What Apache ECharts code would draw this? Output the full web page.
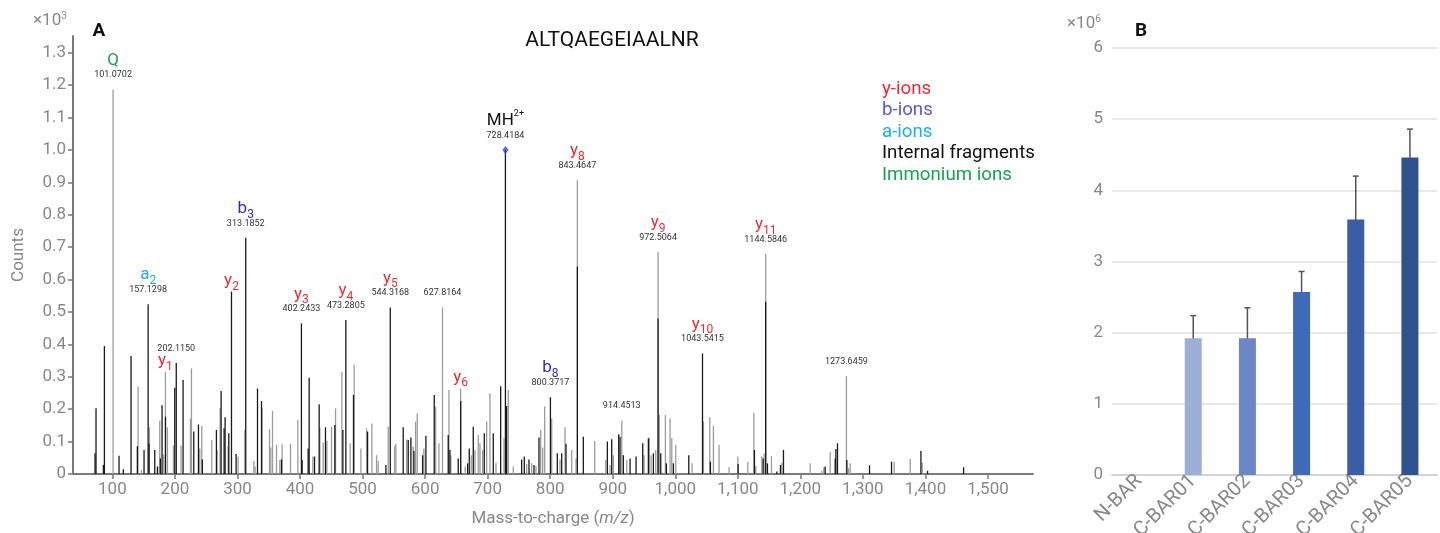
<!DOCTYPE html>
<html><head><meta charset="utf-8">
<script src="https://cdn.jsdelivr.net/npm/echarts@6/dist/echarts.min.js"></script>
<style>html,body{margin:0;padding:0;background:#fff}#c{width:1440px;height:533px}</style>
</head><body><div id="c"></div>
<script>
// ---------- Panel A: spectrum (counts x10^3) ----------
const grayPeaks = [[101.07,1.187],[141.0,0.27],[146.4,0.012],[159.2,0.144],[172.5,0.023],[175.7,0.164],[182.1,0.06],[184.8,0.315],[188,0.144],[197.6,0.088],[209.8,0.088],[224.8,0.171],[226.4,0.326],[239.7,0.079],[242.9,0.148],[258.9,0.105],[267.4,0.073],[272.2,0.203],[285,0.086],[301,0.054],[311.7,0.136],[326.1,0.04],[328.2,0.023],[339.4,0.203],[351.2,0.138],[353.3,0.082],[356,0.195],[362.4,0.09],[367.7,0.043],[371.4,0.092],[384.8,0.093],[396.5,0.167],[420.5,0.054],[431.7,0.143],[437,0.097],[442.9,0.103],[450.4,0.146],[456.8,0.203],[466.9,0.315],[480.2,0.095],[486.6,0.338],[497.3,0.079],[506.4,0.141],[514.9,0.156],[522.4,0.058],[525,0.041],[541,0.146],
[551.2,0.086],[553.3,0.093],[570.4,0.107],[581,0.084],[584.8,0.162],[587.4,0.187],[598.1,0.079],[616.8,0.208],[622.1,0.095],[627.82,0.514],[638.1,0.259],[641.3,0.058],[656.8,0.264],[664.2,0.023],[673.8,0.058],[679.7,0.074],[685,0.12],[687.7,0.095],[692,0.074],[698.4,0.162],[703.7,0.249],[713.3,0.035],[726.1,0.11],[733,0.259],[741,0.023],[762.4,0.031],[770.4,0.033],[777.3,0.025],[784.8,0.136],[788,0.082],[791.2,0.208],[802.4,0.171],[815.7,0.045],[823.7,0.144],[834.4,0.074],[841.3,0.048],[843.46,0.907],[871.2,0.102],[888.8,0.043],[895.7,0.028],[901,0.058],[914.45,0.165],[922.4,0.043],[950.1,0.058],[958.6,0.113],[961.3,0.058],[968.8,0.074],[972.51,0.686],[974.6,0.182],[984.2,0.182],[991.7,0.171],[994.4,0.11],[1000.8,0.09],[1026.9,0.033],[1045,0.162],[1055.2,0.175],[1061,0.148],[1070,0.09],
[1086,0.021],[1100,0.054],[1116,0.037],[1125.6,0.189],[1128.8,0.025],[1138.4,0.054],[1142.1,0.064],[1144.58,0.679],[1153.8,0.056],[1170.4,0.035],[1215.7,0.033],[1234.4,0.01],[1237.6,0.021],[1247.7,0.068],[1273.65,0.302],[1277,0.018],[1279.7,0.033],[1350.1,0.038],[1375.7,0.046],[1394.9,0.035]];

const blackPeaks = [[72.2,0.064],[73.8,0.203],[85.6,0.028],[87.2,0.395],[110.6,0.056],[117.5,0.015],[129.8,0.364],[139.9,0.086],[150.6,0.074],[157.13,0.524],[158.5,0.093],[167.7,0.074],[172,0.023],[176.7,0.048],[179.4,0.212],[184.9,0.177],[199.7,0.266],[202.12,0.343],[213,0.29],[230.1,0.131],[237.6,0.153],[243.9,0.045],[266.3,0.136],[273.8,0.256],[278.6,0.141],[280.2,0.175],[286.1,0.126],[290.4,0.563],[297.8,0.062],[313.19,0.729],[332,0.264],[338.4,0.225],[370.4,0.045],[402.24,0.465],[403.4,0.043],[413,0.079],[414.6,0.297],[423.2,0.054],[430.6,0.215],[440.7,0.144],[455.7,0.151],[468.5,0.136],[473.28,0.475],[485.5,0.244],[508,0.131],[537.3,0.028],[544.32,0.514],
[565,0.144],[573,0.105],[577.3,0.113],[582.1,0.071],[596,0.058],[601.3,0.118],[614.6,0.244],[637,0.12],[639.7,0.074],[653,0.048],[656.9,0.225],[668,0.033],[670.6,0.079],[677,0.146],[694.6,0.126],[709,0.126],[720.8,0.271],[728.42,1.0],[730.4,0.21],[754.4,0.045],[758.6,0.054],[766.1,0.045],[774.1,0.028],[782.1,0.113],[800.37,0.237],[811.4,0.064],[818.4,0.064],[825.3,0.093],[843.47,0.64],[853,0.115],[891.4,0.1],[898.4,0.107],[909.6,0.123],[911.7,0.115],[917,0.058],[927.7,0.048],[937.3,0.054],[948,0.095],[957,0.11],[965,0.064],[972.51,0.48],[976.8,0.064],[985.8,0.033],[997,0.033],[1021.6,0.058],[1043.54,0.372],[1056.2,0.038],
[1100.5,0.031],[1126.6,0.074],[1140.5,0.048],[1144.59,0.532],[1147.4,0.033],[1162.4,0.008],[1168.2,0.028],[1173,0.074],[1239.7,0.023],[1255.7,0.048],[1256.8,0.077],[1259.4,0.095],[1274.4,0.043],[1310.6,0.027],[1345.8,0.038],[1392.8,0.071],[1403.4,0.01],[1461,0.021]];

// annotations
const annMz   = [101.0702,157.1298,184.8,202.1150,290.4,313.1852,402.2433,473.2805,544.3168,627.8164,656.8,728.4184,800.3717,843.4647,914.4513,972.5064,1043.5415,1144.5846,1273.6459];
const annTop  = [1.187,0.524,0.315,0.343,0.563,0.729,0.465,0.475,0.514,0.514,0.264,1.0,0.237,0.907,0.165,0.686,0.372,0.679,0.302];
const annIon  = ['Q','a','y','','y','b','y','y','y','','y','MH','b','y','','y','y','y',''];
const annSub  = ['','2','1','','2','3','3','4','5','','6','','8','8','','9','10','11',''];
const annSup  = ['','','','','','','','','','','','2+','','','','','','',''];
const annType = ['imm','a','y','','y','b','y','y','y','','y','int','b','y','','y','y','y',''];
const annShowMz = [1,1,0,1,0,1,1,1,1,1,0,1,1,1,1,1,1,1,1];
const precursor = [[728.4184,1.0]];

const xTicks = [100,200,300,400,500,600,700,800,900,1000,1100,1200,1300,1400,1500];
const yTicks = [0,0.1,0.2,0.3,0.4,0.5,0.6,0.7,0.8,0.9,1.0,1.1,1.2,1.3];

const legendNames = ['y-ions','b-ions','a-ions','Internal fragments','Immonium ions'];
const legendKeys  = ['y','b','a','int','imm'];
const ionColor = {y:'#ee2a2f', b:'#2a2ad2', a:'#18aef0', int:'#111111', imm:'#17a34f'};
const legendColor = {y:'#ee2a2f', b:'#5757e0', a:'#18aef0', int:'#111111', imm:'#17a34f'};

// ---------- Panel B: bar chart (x10^6) ----------
const categories = ['N-BAR','C-BAR01','C-BAR02','C-BAR03','C-BAR04','C-BAR05'];
const barValues  = [0,1.92,1.92,2.57,3.59,4.46];
const errLow     = [null,1.59,1.49,2.30,3.00,4.07];
const errHigh    = [null,2.24,2.35,2.86,4.20,4.86];
const barColors  = ['#9daed8','#9daed8','#6b87c8','#3e6bb8','#395ea6','#30528f'];

const FONT = 'Roboto, "Noto Sans", sans-serif';
const chart = echarts.init(document.getElementById('c'), null, {renderer:'canvas'});

function peakRender(color){
  return function(params, api){
    const p0 = api.coord([api.value(0), 0]);
    const p1 = api.coord([api.value(0), api.value(1)]);
    return {type:'line', shape:{x1:p0[0],y1:p0[1],x2:p1[0],y2:p1[1]}, style:{stroke:color, lineWidth:1.3}};
  };
}

const annData = annMz.map((m,i)=>[m, annTop[i]]);

const option = {
  animation:false,
  textStyle:{fontFamily:FONT},
  grid:[
    {left:73, right:407, top:36, bottom:59, outerBoundsMode:'none', containLabel:false},
    {left:1112, width:325, top:48, bottom:58, outerBoundsMode:'none', containLabel:false}
  ],
  xAxis:[
    {gridIndex:0, type:'value', min:37, max:1572,
     axisLine:{lineStyle:{color:'#7a7a7a', width:2}},
     axisTick:{show:true, length:5, lineStyle:{color:'#7a7a7a', width:1.5}, customValues:xTicks},
     axisLabel:{customValues:xTicks, color:'#888', fontSize:17, margin:7, fontFamily:FONT,
       formatter:v=>Number(v).toLocaleString('en-US')},
     splitLine:{show:false},
     name:'Mass-to-charge ({i|m/z})', nameLocation:'middle', nameGap:36,
     nameTextStyle:{color:'#888', fontSize:17, fontFamily:FONT, rich:{i:{fontStyle:'italic', color:'#888', fontSize:17, fontFamily:FONT}}}
    },
    {gridIndex:1, type:'category', data:categories,
     axisLine:{lineStyle:{color:'#d4d4d4', width:2}},
     axisTick:{show:false},
     axisLabel:{interval:0, rotate:45, color:'#888', fontSize:20, margin:3, padding:[17,0,0,0], fontFamily:FONT}
    }
  ],
  yAxis:[
    {gridIndex:0, type:'value', min:0, max:1.352,
     axisLine:{show:true, lineStyle:{color:'#7a7a7a', width:2}},
     axisTick:{show:true, length:5, lineStyle:{color:'#7a7a7a', width:1.5}, customValues:yTicks},
     axisLabel:{customValues:yTicks, color:'#888', fontSize:17, margin:7, fontFamily:FONT,
       formatter:v=> v===0 ? '0' : Number(v).toFixed(1)},
     splitLine:{show:false},
     name:'Counts', nameLocation:'middle', nameGap:46,
     nameTextStyle:{color:'#888', fontSize:17, fontFamily:FONT}
    },
    {gridIndex:1, type:'value', min:0, max:6, interval:1,
     axisLine:{show:false}, axisTick:{show:false},
     axisLabel:{color:'#888', fontSize:17, margin:9, fontFamily:FONT},
     splitLine:{lineStyle:{color:'#e2e2e2', width:1.5}}
    }
  ],
  series:[
    {type:'custom', name:'gray', xAxisIndex:0, yAxisIndex:0, clip:true, data:grayPeaks, encode:{x:0,y:1}, renderItem:peakRender('#9c9c9c'), silent:true},
    {type:'custom', name:'black', xAxisIndex:0, yAxisIndex:0, clip:true, data:blackPeaks, encode:{x:0,y:1}, renderItem:peakRender('#1a1a1a'), silent:true},
    {type:'scatter', xAxisIndex:0, yAxisIndex:0, data:precursor, symbol:'diamond', symbolSize:[6,8], itemStyle:{color:'#1f3ff0'}, silent:true},
    {type:'custom', name:'ann', xAxisIndex:0, yAxisIndex:0, data:annData, encode:{x:0,y:1}, silent:true,
     renderItem:function(params, api){
       const i = params.dataIndex;
       const pt = api.coord([api.value(0), api.value(1)]);
       const ch = [];
       let ionBottom;
       if (annShowMz[i]) {
         ch.push({type:'text', x:pt[0], y:pt[1]-10, style:{text:annMz[i].toFixed(4), fill:'#333', font:'9px '+FONT, align:'center', verticalAlign:'bottom'}});
         ionBottom = pt[1]-17;
       } else {
         ionBottom = pt[1]+1;
       }
       if (annIon[i]) {
         const col = ionColor[annType[i]];
         let t = '{m|'+annIon[i]+'}';
         if (annSub[i]) t += '{s|'+annSub[i]+'}';
         if (annSup[i]) t += '{p|'+annSup[i]+'}';
         ch.push({type:'text', x:pt[0], y:ionBottom, style:{text:t, align:'center', verticalAlign:'bottom',
           rich:{
             m:{fontSize:17, lineHeight:24, fill:col, fontFamily:FONT},
             s:{fontSize:12, lineHeight:10, fill:col, fontFamily:FONT, verticalAlign:'bottom'},
             p:{fontSize:9, lineHeight:10, fill:col, fontFamily:FONT, verticalAlign:'top'}
           }}});
       }
       return {type:'group', children:ch};
     }
    },
    {type:'bar', xAxisIndex:1, yAxisIndex:1, barWidth:17,
     data:barValues.map((v,i)=>({value:v, itemStyle:{color:barColors[i]}})), silent:true},
    {type:'custom', xAxisIndex:1, yAxisIndex:1, silent:true,
     data:categories.map((c,i)=>[i, errLow[i], errHigh[i]]).filter(d=>d[1]!==null),
     encode:{x:0, y:[1,2]},
     renderItem:function(params, api){
       const lo = api.coord([api.value(0), api.value(1)]);
       const hi = api.coord([api.value(0), api.value(2)]);
       const st = {stroke:'#555', lineWidth:1.5};
       return {type:'group', children:[
         {type:'line', shape:{x1:lo[0],y1:lo[1],x2:hi[0],y2:hi[1]}, style:st},
         {type:'line', shape:{x1:lo[0]-3,y1:lo[1],x2:lo[0]+3,y2:lo[1]}, style:st},
         {type:'line', shape:{x1:hi[0]-3,y1:hi[1],x2:hi[0]+3,y2:hi[1]}, style:st}
       ]};
     }
    }
  ],
  graphic:[
    {type:'text', x:33, y:21, style:{text:'{a|×10}{b|3}', verticalAlign:'middle', rich:{a:{fontSize:17, lineHeight:20, fill:'#888', fontFamily:FONT}, b:{fontSize:10, lineHeight:10, fill:'#888', fontFamily:FONT, verticalAlign:'top'}}}},
    {type:'text', x:99, y:31, style:{text:'A', fill:'#111', font:'bold 19px '+FONT, align:'center', verticalAlign:'middle'}},
    {type:'text', x:612, y:41, style:{text:'ALTQAEGEIAALNR', fill:'#111', font:'21px '+FONT, align:'center', verticalAlign:'middle'}},
    {type:'text', x:1067, y:24, style:{text:'{a|×10}{b|6}', verticalAlign:'middle', rich:{a:{fontSize:17, lineHeight:20, fill:'#888', fontFamily:FONT}, b:{fontSize:10, lineHeight:10, fill:'#888', fontFamily:FONT, verticalAlign:'top'}}}},
    {type:'text', x:1141, y:31, style:{text:'B', fill:'#111', font:'bold 19px '+FONT, align:'center', verticalAlign:'middle'}}
  ].concat(legendNames.map((n,i)=>({type:'text', x:882, y:89+i*21.6, style:{text:n, fill:legendColor[legendKeys[i]], font:'18.7px '+FONT, align:'left', verticalAlign:'middle'}})))
};
chart.setOption(option);
</script></body></html>
